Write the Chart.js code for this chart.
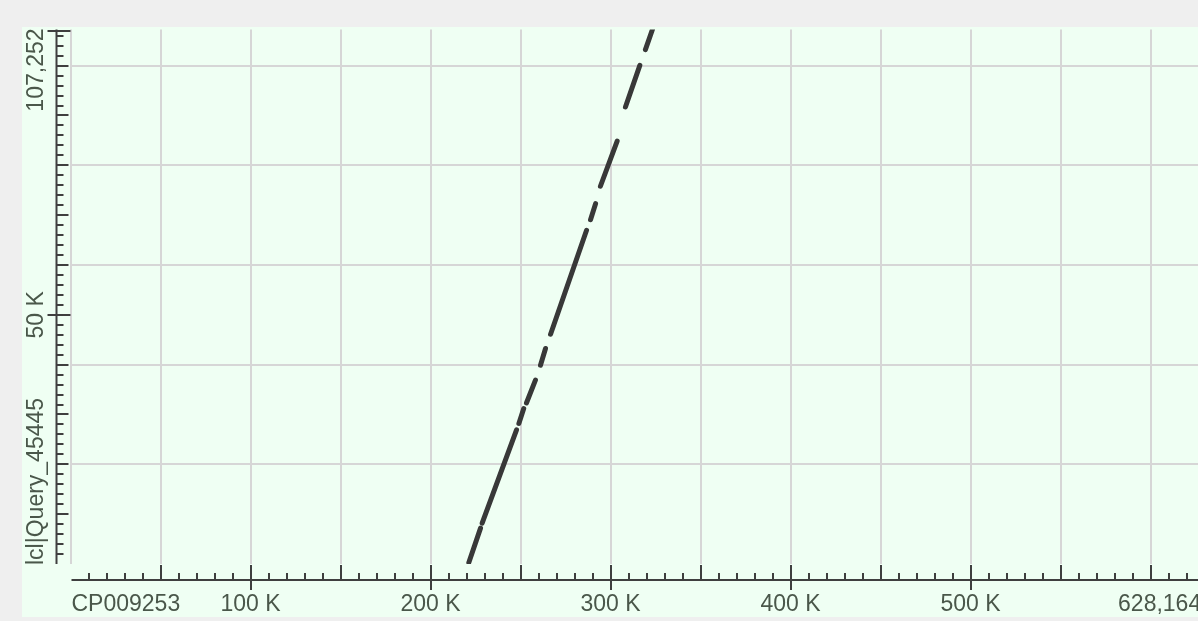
<!DOCTYPE html>
<html>
<head>
<meta charset="utf-8">
<title>Dot matrix</title>
<script src="https://cdn.jsdelivr.net/npm/chart.js@4/dist/chart.umd.min.js"></script>
<style>
  html, body { margin: 0; padding: 0; overflow: hidden; background: #efefef; }
  #panel { position: absolute; left: 22px; top: 27px; right: 0; bottom: 4px; background: #effff3; }
  #dotChart { position: absolute; left: 0; top: 0; }
</style>
</head>
<body>
<div id="panel"></div>
<canvas id="dotChart" width="1202" height="621"></canvas>
<script>
// ============================================
// dot plot: query vs subject
// ============================================

const subjectName = "CP009253";
const queryName = "lcl|Query_45445";
const subjectLength = 628164;
const queryLength = 107252;

// alignment segments (subject = x, query = y)
const subjectStart = [221300, 228700, 249100, 253300, 261100, 266700, 288900, 294400, 308300, 319400];
const subjectEnd   = [227800, 247800, 251800, 258300, 263900, 286700, 291700, 303700, 316300, 323300];
const queryStart   = [300,    8200,   28200,  32300,  39900,  46100,  69100,  75800,  91700,  103200];
const queryEnd     = [7200,   26900,  31200,  36900,  43250,  66970,  72300,  84870,  100050, 107252];

// grid lines and labelled ticks
const xGridTicks = [0, 50000, 100000, 150000, 200000, 250000, 300000, 350000, 400000, 450000, 500000, 550000, 600000];
const yGridTicks = [20000, 40000, 60000, 80000, 100000];
const xLabelTicks = [100000, 200000, 300000, 400000, 500000];
const xLabels = ["100 K", "200 K", "300 K", "400 K", "500 K"];
const yLabelTicks = [50000];
const yLabels = ["50 K"];
const xMinorStep = 10000;
const xMediumStep = 50000;
const yMinorStep = 2000;
const yMediumStep = 10000;

const axisColor = "#3f3f3f";
const labelColor = "#4a574a";
const labelFont = '23px "Liberation Sans", Arial, sans-serif';

function linha(ctx, x1, y1, x2, y2) {
  ctx.beginPath();
  ctx.moveTo(x1, y1);
  ctx.lineTo(x2, y2);
  ctx.stroke();
}

// === axes drawn outside the plot area
const dotAxes = {
  id: "dotAxes",
  afterDraw(chart) {
    const { ctx, chartArea: a, scales: { x, y } } = chart;
    ctx.save();
    ctx.strokeStyle = axisColor;
    ctx.lineWidth = 2;
    ctx.fillStyle = labelColor;
    ctx.font = labelFont;

    // --- y axis
    const ax = Math.round(a.left - 14.5) + 0.5;
    const yTop = y.getPixelForValue(queryLength);
    const yBot = y.getPixelForValue(0);
    linha(ctx, ax, yTop, ax, yBot);
    for (let v = yMinorStep; v < queryLength; v += yMinorStep) {
      const py = Math.round(y.getPixelForValue(v));
      if (yLabelTicks.includes(v)) {
        linha(ctx, ax - 9, py, ax + 14, py);
      } else {
        linha(ctx, ax, py, ax + (v % yMediumStep === 0 ? 12 : 7), py);
      }
    }
    linha(ctx, ax - 9, Math.round(yTop) + 1, ax + 14, Math.round(yTop) + 1);

    const labelX = ax - 14;
    function yText(text, py, align) {
      ctx.save();
      ctx.translate(labelX, py);
      ctx.rotate(-Math.PI / 2);
      ctx.textAlign = align;
      ctx.textBaseline = "alphabetic";
      ctx.fillText(text, 0, 0);
      ctx.restore();
    }
    yLabelTicks.forEach((v, i) => yText(yLabels[i], y.getPixelForValue(v), "center"));
    yText(queryLength.toLocaleString("en-US"), yTop - 1, "right");
    yText(queryName, yBot + 1, "left");

    // --- x axis
    const ay = Math.round(a.bottom + 16);
    const xLeft = x.getPixelForValue(0) + 1;
    const xRight = x.getPixelForValue(subjectLength);
    linha(ctx, xLeft, ay, xRight, ay);
    for (let v = xMinorStep; v < subjectLength; v += xMinorStep) {
      const px = Math.round(x.getPixelForValue(v));
      if (xLabelTicks.includes(v)) {
        linha(ctx, px, ay - 15, px, ay + 10);
      } else {
        linha(ctx, px, ay, px, ay - (v % xMediumStep === 0 ? 15 : 7));
      }
    }

    ctx.textBaseline = "alphabetic";
    ctx.textAlign = "center";
    const labelY = ay + 31;
    xLabelTicks.forEach((v, i) => ctx.fillText(xLabels[i], x.getPixelForValue(v), labelY));
    ctx.textAlign = "left";
    ctx.fillText(subjectName, xLeft, labelY);
    ctx.textAlign = "right";
    ctx.fillText(subjectLength.toLocaleString("en-US"), xRight, labelY);

    ctx.restore();
  }
};

// === one dataset per alignment segment
const segmentos = subjectStart.map((s, i) => ({
  data: [
    { x: s, y: queryStart[i] },
    { x: subjectEnd[i], y: queryEnd[i] }
  ],
  showLine: true,
  borderColor: "#383838",
  borderWidth: 5,
  borderCapStyle: "round",
  pointRadius: 0,
  pointHoverRadius: 0
}));

new Chart(document.getElementById("dotChart"), {
  type: "scatter",
  data: { datasets: segmentos },
  options: {
    responsive: false,
    devicePixelRatio: 1,
    animation: false,
    events: [],
    layout: { padding: { left: 70.5, right: 0.8, top: 29.5, bottom: 57 } },
    plugins: { legend: { display: false }, tooltip: { enabled: false } },
    scales: {
      x: {
        type: "linear",
        min: 0,
        max: subjectLength,
        afterBuildTicks: (axis) => { axis.ticks = xGridTicks.map(v => ({ value: v })); },
        ticks: { display: false },
        border: { display: false },
        grid: { color: "#d6d6d6", lineWidth: 2, drawTicks: false }
      },
      y: {
        type: "linear",
        min: 0,
        max: queryLength,
        afterBuildTicks: (axis) => { axis.ticks = yGridTicks.map(v => ({ value: v })); },
        ticks: { display: false },
        border: { display: false },
        grid: { color: "#d6d6d6", lineWidth: 2, drawTicks: false }
      }
    }
  },
  plugins: [dotAxes]
});
</script>
</body>
</html>
